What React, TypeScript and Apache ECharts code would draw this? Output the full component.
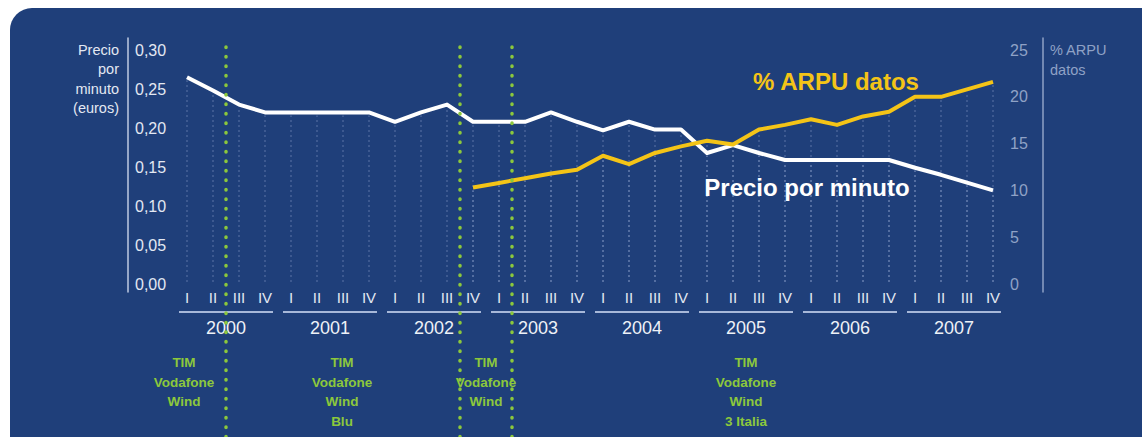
import React, { useEffect, useRef } from "react";
import * as echarts from "echarts";

// ---------- data ----------
const years = ["2000", "2001", "2002", "2003", "2004", "2005", "2006", "2007"];
const quarterNames = ["I", "II", "III", "IV"];
const quarterCategories = years.flatMap((y) => quarterNames.map((q) => `${y}-${q}`));

// Precio por minuto (euros), one value per quarter 2000 I … 2007 IV
const pricePerMinute = [
  0.265, 0.248, 0.23, 0.22,
  0.22, 0.22, 0.22, 0.22,
  0.208, 0.22, 0.23, 0.208,
  0.208, 0.208, 0.22, 0.208,
  0.197, 0.208, 0.198, 0.198,
  0.168, 0.178, 0.168, 0.159,
  0.159, 0.159, 0.159, 0.159,
  0.149, 0.14, 0.13, 0.12,
];

// % ARPU datos, starts at 2002 IV
const arpuData: (number | null)[] = [
  null, null, null, null,
  null, null, null, null,
  null, null, null, 10.3,
  10.8, 11.3, 11.8, 12.2,
  13.7, 12.8, 14.0, 14.7,
  15.3, 14.9, 16.5, 17.0,
  17.6, 17.0, 17.9, 18.4,
  20.0, 20.0, 20.8, 21.6,
];

// market-entry markers (quarter index, between quarters)
const entryMarkers = [1.5, 10.5, 12.5];

// operators in each market period
const operatorGroups = [
  ["TIM", "Vodafone", "Wind"],
  ["TIM", "Vodafone", "Wind", "Blu"],
  ["TIM", "Vodafone", "Wind"],
  ["TIM", "Vodafone", "Wind", "3 Italia"],
];

// ---------- style ----------
const FONT = "'Liberation Sans', Arial, Helvetica, sans-serif";
const NARROW = "'Liberation Sans Narrow', 'Liberation Sans', Arial, sans-serif";
const BG = "#1f3f7a";
const WHITE_TXT = "#e3e8f2";
const MUTED = "#8fa2c6";
const YELLOW = "#f4c417";
const GREEN = "#8cc83c";

const groupX = [184, 342, 486, 746];

export default function App() {
  const ref = useRef<HTMLDivElement>(null);

  useEffect(() => {
    document.body.style.margin = "0";
    if (!ref.current) return;
    const chart = echarts.init(ref.current, undefined, { renderer: "svg" });

    const dropLine = (params: any, api: any) => {
      const idx = api.value(0);
      const v = api.value(1);
      if (v == null || isNaN(v)) return null;
      const top = api.coord([idx, v]);
      const base = api.coord([idx, 0]);
      return {
        type: "line",
        shape: { x1: top[0], y1: base[1] - 2, x2: top[0], y2: top[1] + 3 },
        style: { stroke: "rgba(165,185,225,0.45)", lineWidth: 1, lineDash: [2, 3] },
        silent: true,
      };
    };

    const option: any = {
      animation: false,
      backgroundColor: "transparent",
      textStyle: { fontFamily: FONT },
      grid: [
        { left: 187, right: 149, top: 50, bottom: 153 }, // main plot
        { left: 187, right: 149, top: 38, bottom: 0 }, // entry markers
        { left: 128, right: 99, top: 38, bottom: 145 }, // axis lines
        { left: 174, right: 136, top: 50, bottom: 153 }, // year axis
      ],
      xAxis: [
        {
          gridIndex: 0,
          type: "category",
          data: quarterCategories,
          boundaryGap: false,
          axisLine: { show: false },
          axisTick: { show: false },
          splitLine: { show: false },
          axisLabel: {
            interval: 0,
            margin: 6,
            color: WHITE_TXT,
            fontSize: 15,
            fontFamily: NARROW,
            formatter: (v: string) => v.split("-")[1],
          },
        },
        { gridIndex: 1, type: "value", min: 0, max: 31, show: false },
        { gridIndex: 2, type: "value", min: 0, max: 1, show: false },
        {
          gridIndex: 3,
          type: "category",
          data: years,
          boundaryGap: true,
          axisLine: { show: false },
          axisTick: { show: false },
          splitLine: { show: false },
          axisLabel: {
            interval: 0,
            margin: 27,
            formatter: (v: string) => `{l| }\n{y|${v}}`,
            rich: {
              l: { width: 94, height: 2, lineHeight: 2, backgroundColor: "#a7b8d9", fontSize: 1 },
              y: { fontSize: 18, lineHeight: 30, color: "#eef1f7", fontFamily: FONT },
            },
          },
        },
      ],
      yAxis: [
        {
          gridIndex: 0,
          type: "value",
          min: 0,
          max: 0.3,
          interval: 0.05,
          position: "left",
          offset: 59,
          axisLine: { show: false },
          axisTick: { show: false },
          splitLine: { show: false },
          axisLabel: {
            inside: true,
            align: "left",
            margin: 7,
            color: WHITE_TXT,
            fontSize: 16,
            formatter: (v: number) => v.toFixed(2).replace(".", ","),
          },
        },
        {
          gridIndex: 0,
          type: "value",
          min: 0,
          max: 25,
          interval: 5,
          position: "right",
          offset: 50,
          axisLine: { show: false },
          axisTick: { show: false },
          splitLine: { show: false },
          axisLabel: { inside: true, align: "left", margin: 33, color: MUTED, fontSize: 16 },
        },
        { gridIndex: 1, type: "value", min: 0, max: 1, show: false },
        {
          gridIndex: 2,
          type: "value",
          min: 0,
          max: 1,
          position: "left",
          axisLine: { show: true, lineStyle: { color: "#bfcbe3", width: 1.5 } },
          axisTick: { show: false },
          axisLabel: { show: false },
          splitLine: { show: false },
        },
        {
          gridIndex: 2,
          type: "value",
          min: 0,
          max: 1,
          position: "right",
          axisLine: { show: true, lineStyle: { color: MUTED, width: 1.5 } },
          axisTick: { show: false },
          axisLabel: { show: false },
          splitLine: { show: false },
        },
        { gridIndex: 3, type: "value", show: false },
      ],
      series: [
        {
          type: "custom",
          xAxisIndex: 0,
          yAxisIndex: 0,
          renderItem: dropLine,
          data: pricePerMinute.map((v, i) => [i, v]),
          encode: { x: 0, y: 1 },
          z: 1,
          silent: true,
        },
        {
          type: "custom",
          xAxisIndex: 0,
          yAxisIndex: 1,
          renderItem: dropLine,
          data: arpuData.map((v, i) => [i, v]).filter((d) => d[1] != null),
          encode: { x: 0, y: 1 },
          z: 1,
          silent: true,
        },
        {
          type: "line",
          name: "Precio por minuto",
          xAxisIndex: 0,
          yAxisIndex: 0,
          data: pricePerMinute,
          symbol: "none",
          lineStyle: { color: "#ffffff", width: 4, join: "round" },
          z: 3,
        },
        {
          type: "line",
          name: "% ARPU datos",
          xAxisIndex: 0,
          yAxisIndex: 1,
          data: arpuData,
          symbol: "none",
          connectNulls: false,
          lineStyle: { color: YELLOW, width: 4, join: "round" },
          z: 4,
        },
        {
          type: "line",
          xAxisIndex: 1,
          yAxisIndex: 2,
          data: [],
          z: 6,
          markLine: {
            silent: true,
            symbol: "none",
            label: { show: false },
            lineStyle: { color: GREEN, width: 3.5, type: [0.5, 9], cap: "round" },
            data: entryMarkers.map((x) => ({ xAxis: x })),
          },
        },
      ],
      graphic: [
        {
          type: "text",
          x: 119,
          y: 40,
          style: {
            text: "Precio\npor\nminuto\n(euros)",
            fill: WHITE_TXT,
            fontSize: 14.5,
            fontFamily: FONT,
            lineHeight: 19.5,
            textAlign: "right",
            textVerticalAlign: "top",
          },
        },
        {
          type: "text",
          x: 1050,
          y: 40,
          style: {
            text: "% ARPU\ndatos",
            fill: MUTED,
            fontSize: 14.5,
            fontFamily: FONT,
            lineHeight: 20,
            textAlign: "left",
            textVerticalAlign: "top",
          },
        },
        {
          type: "text",
          x: 836,
          y: 81,
          z: 10,
          style: {
            text: "% ARPU datos",
            fill: YELLOW,
            fontSize: 24,
            fontWeight: "bold",
            fontFamily: FONT,
            textAlign: "center",
            textVerticalAlign: "middle",
          },
        },
        {
          type: "text",
          x: 807,
          y: 187,
          z: 10,
          style: {
            text: "Precio por minuto",
            fill: "#ffffff",
            fontSize: 24,
            fontWeight: "bold",
            fontFamily: FONT,
            textAlign: "center",
            textVerticalAlign: "middle",
          },
        },
        ...operatorGroups.map((g, i) => ({
          type: "text",
          x: groupX[i],
          y: 353,
          z: 10,
          style: {
            text: g.join("\n"),
            fill: GREEN,
            fontSize: 13.5,
            fontWeight: "bold",
            fontFamily: FONT,
            lineHeight: 19.5,
            textAlign: "center",
            textVerticalAlign: "top",
          },
        })),
      ],
    };

    chart.setOption(option);
    return () => chart.dispose();
  }, []);

  return (
    <div style={{ position: "relative", width: 1142, height: 437, overflow: "hidden", background: "#ffffff" }}>
      <div
        style={{
          position: "absolute",
          left: 10,
          top: 8,
          width: 1200,
          height: 500,
          borderRadius: 22,
          background: BG,
        }}
      />
      <div ref={ref} style={{ position: "absolute", left: 0, top: 0, width: 1142, height: 437 }} />
    </div>
  );
}
